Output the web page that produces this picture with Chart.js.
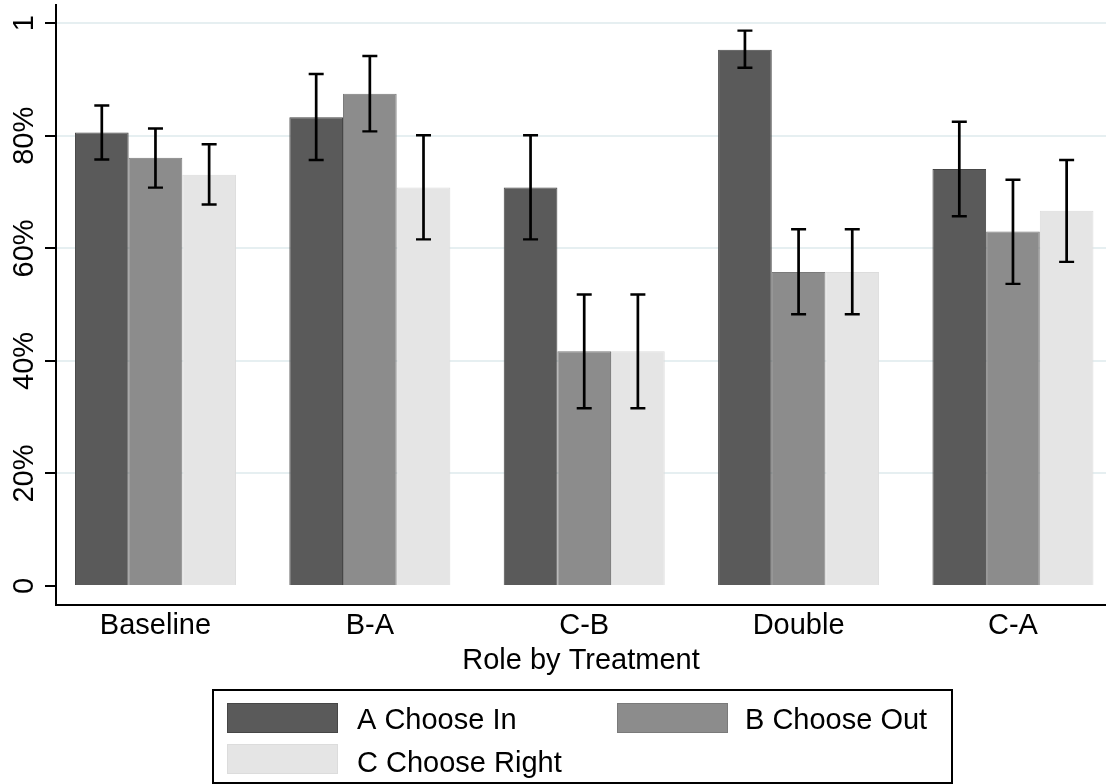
<!DOCTYPE html>
<html>
<head>
<meta charset="utf-8">
<title>Role by Treatment</title>
<script src="https://cdn.jsdelivr.net/npm/chart.js@4.4.1/dist/chart.umd.min.js"></script>
<style>
  html, body { margin: 0; padding: 0; background: #ffffff; }
  canvas { display: block; }
</style>
</head>
<body>
<canvas id="chart" width="1106" height="784"></canvas>
<script>
// Treatment categories along the x axis
const categories = ['Baseline', 'B-A', 'C-B', 'Double', 'C-A'];

// Share choosing each action, by role
const seriesNames = ['A Choose In', 'B Choose Out', 'C Choose Right'];
const aChooseIn    = [0.806, 0.833, 0.708, 0.953, 0.741];
const bChooseOut   = [0.761, 0.875, 0.417, 0.558, 0.630];
const cChooseRight = [0.731, 0.708, 0.417, 0.558, 0.667];

// Confidence interval bounds for each bar
const aLower = [0.758, 0.757, 0.616, 0.921, 0.657];
const aUpper = [0.854, 0.910, 0.801, 0.987, 0.825];
const bLower = [0.708, 0.808, 0.316, 0.483, 0.537];
const bUpper = [0.813, 0.942, 0.518, 0.634, 0.722];
const cLower = [0.678, 0.616, 0.316, 0.483, 0.576];
const cUpper = [0.785, 0.801, 0.518, 0.634, 0.757];

// Y axis ticks and their labels
const yTickValues = [0, 0.2, 0.4, 0.6, 0.8, 1];
const yTickLabels = ['0', '20%', '40%', '60%', '80%', '1'];

const fills   = ['#5a5a5a', '#8c8c8c', '#e5e5e5'];
const borders = ['#464646', '#7a7a7a', '#dcdcdc'];
const FONT = '"Liberation Sans", Arial, Helvetica, sans-serif';
const FONT_SIZE = 29;

const values = [aChooseIn, bChooseOut, cChooseRight];
const lowers = [aLower, bLower, cLower];
const uppers = [aUpper, bUpper, cUpper];

const datasets = values.map((vals, s) => ({
  label: seriesNames[s],
  data: vals.map((v, i) => ({ x: i, y: v })),
  backgroundColor: fills[s],
  borderColor: borders[s],
  borderWidth: 1,
  categoryPercentage: 0.751,
  barPercentage: 1.0,
  ciLow: lowers[s],
  ciHigh: uppers[s]
}));

// Capped confidence-interval whiskers on top of every bar
const errorBars = {
  id: 'errorBars',
  afterDatasetsDraw(chart) {
    const ctx = chart.ctx;
    const yScale = chart.scales.y;
    ctx.save();
    ctx.strokeStyle = '#000000';
    ctx.lineCap = 'butt';
    chart.data.datasets.forEach((ds, di) => {
      const meta = chart.getDatasetMeta(di);
      meta.data.forEach((bar, j) => {
        const x = bar.x;
        const yLo = yScale.getPixelForValue(ds.ciLow[j]);
        const yHi = yScale.getPixelForValue(ds.ciHigh[j]);
        ctx.lineWidth = 2.7;
        ctx.beginPath();
        ctx.moveTo(x, yLo);
        ctx.lineTo(x, yHi);
        ctx.stroke();
        ctx.lineWidth = 2.4;
        ctx.beginPath();
        ctx.moveTo(x - 7.5, yLo);
        ctx.lineTo(x + 7.5, yLo);
        ctx.moveTo(x - 7.5, yHi);
        ctx.lineTo(x + 7.5, yHi);
        ctx.stroke();
      });
    });
    ctx.restore();
  }
};

// Vertical (rotated) y tick labels
const yLabels = {
  id: 'yLabels',
  afterDraw(chart) {
    const ctx = chart.ctx;
    const yScale = chart.scales.y;
    ctx.save();
    ctx.fillStyle = '#000000';
    ctx.font = FONT_SIZE + 'px ' + FONT;
    ctx.textAlign = 'center';
    ctx.textBaseline = 'alphabetic';
    yTickValues.forEach((v, i) => {
      const py = yScale.getPixelForValue(v);
      ctx.save();
      ctx.translate(33, py);
      ctx.rotate(-Math.PI / 2);
      ctx.fillText(yTickLabels[i], 0, 0);
      ctx.restore();
    });
    ctx.restore();
  }
};

// Boxed two-column legend below the axis title
const boxLegend = {
  id: 'boxLegend',
  afterDraw(chart) {
    const ctx = chart.ctx;
    ctx.save();
    ctx.strokeStyle = '#000000';
    ctx.lineWidth = 2;
    ctx.strokeRect(213, 690, 739, 93);
    const slots = [
      { sx: 227, sy: 703, tx: 357, ty: 728.5 },
      { sx: 617, sy: 703, tx: 745, ty: 728.5 },
      { sx: 227, sy: 744, tx: 357, ty: 771.5 }
    ];
    ctx.font = FONT_SIZE + 'px ' + FONT;
    ctx.textAlign = 'left';
    ctx.textBaseline = 'alphabetic';
    chart.data.datasets.forEach((ds, i) => {
      const s = slots[i];
      ctx.fillStyle = ds.backgroundColor;
      ctx.fillRect(s.sx, s.sy, 111, 30);
      ctx.strokeStyle = ds.borderColor;
      ctx.lineWidth = 1;
      ctx.strokeRect(s.sx + 0.5, s.sy + 0.5, 110, 29);
      ctx.fillStyle = '#000000';
      ctx.fillText(ds.label, s.tx, s.ty);
    });
    ctx.restore();
  }
};

new Chart(document.getElementById('chart'), {
  type: 'bar',
  data: { datasets },
  options: {
    responsive: false,
    animation: false,
    devicePixelRatio: 1,
    layout: { padding: { top: 5, right: 0, bottom: 94, left: 0 } },
    plugins: {
      legend: { display: false },
      tooltip: { enabled: false }
    },
    scales: {
      x: {
        type: 'linear',
        offset: false,
        min: -0.464,
        max: 4.434,
        afterBuildTicks(scale) {
          scale.ticks = categories.map((c, i) => ({ value: i }));
        },
        afterFit(scale) { scale.height = 85; },
        grid: { display: false, drawTicks: false, offset: false },
        border: { display: true, color: '#000000', width: 2 },
        ticks: {
          padding: 4,
          color: '#000000',
          font: { family: FONT, size: FONT_SIZE },
          callback: (v) => categories[v] ?? ''
        },
        title: {
          display: true,
          text: 'Role by Treatment',
          color: '#000000',
          font: { family: FONT, size: FONT_SIZE },
          padding: { top: 0, bottom: 12 }
        }
      },
      y: {
        type: 'linear',
        min: -0.0337,
        max: 1.0325,
        afterBuildTicks(scale) {
          scale.ticks = yTickValues.map(v => ({ value: v }));
        },
        afterFit(scale) { scale.width = 56; },
        grid: {
          drawTicks: true,
          tickLength: 11,
          tickColor: '#000000',
          tickWidth: 2,
          lineWidth: 2,
          color: (c) => (c.tick && c.tick.value === 0) ? 'rgba(0,0,0,0)' : '#e6eff1'
        },
        border: { display: true, color: '#000000', width: 2 },
        ticks: { display: false }
      }
    }
  },
  plugins: [errorBars, yLabels, boxLegend]
});
</script>
</body>
</html>
